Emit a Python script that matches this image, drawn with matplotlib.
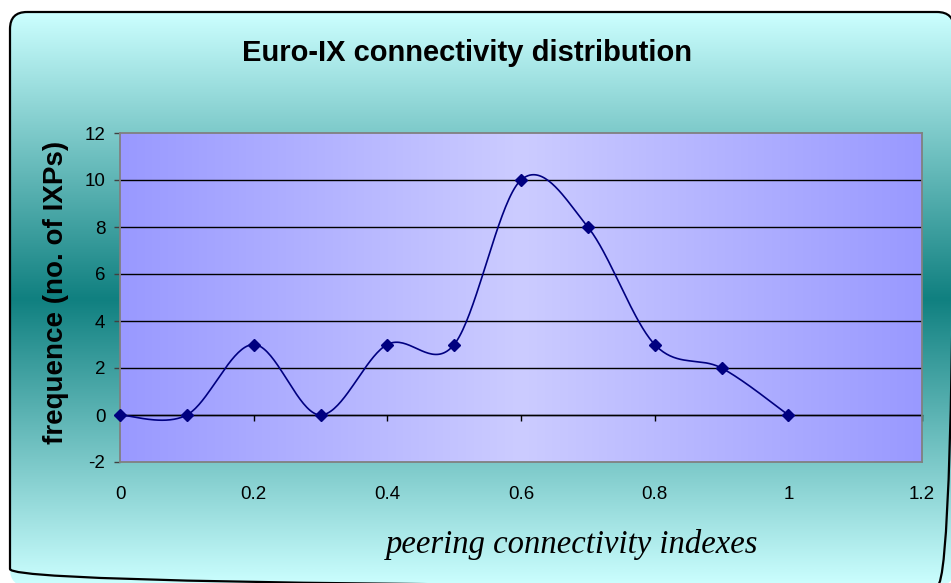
import numpy as np
import matplotlib
matplotlib.use("Agg")
import matplotlib.pyplot as plt
from matplotlib.patches import FancyBboxPatch

# ---- data ----
x_values = [0.0, 0.1, 0.2, 0.3, 0.4, 0.5, 0.6, 0.7, 0.8, 0.9, 1.0]
y_values = [0, 0, 3, 0, 3, 3, 10, 8, 3, 2, 0]
x_ticks = [0, 0.2, 0.4, 0.6, 0.8, 1, 1.2]
x_tick_labels = ["0", "0.2", "0.4", "0.6", "0.8", "1", "1.2"]
y_ticks = [-2, 0, 2, 4, 6, 8, 10, 12]
title = "Euro-IX connectivity distribution"
x_label = "peering connectivity indexes"
y_label = "frequence (no. of IXPs)"

W, H = 951, 583
fig = plt.figure(figsize=(W / 100, H / 100), dpi=100)
fig.patch.set_facecolor("white")

# ---- outer background with rounded border ----
bg = fig.add_axes([0, 0, 1, 1])
bg.axis("off")
top_c = np.array([0xcc, 0xff, 0xff]) / 255
mid_c = np.array([0x10, 0x80, 0x80]) / 255
x0, x1 = 10, 954
y0, y1 = 12, 586
yy = np.linspace(0, 1, 400)
t = 1 - np.abs(yy - 0.5) * 2
grad = top_c[None, :] * (1 - t[:, None]) + mid_c[None, :] * t[:, None]
grad = np.repeat(grad[:, None, :], 2, axis=1)
im = bg.imshow(grad, extent=[x0, x1, y1, y0], aspect="auto", interpolation="bilinear")
box = FancyBboxPatch((x0, y0), x1 - x0, y1 - y0, boxstyle="round,pad=0,rounding_size=17",
                     facecolor="none", edgecolor="black", linewidth=1.6)
bg.add_patch(box)
im.set_clip_path(box)
bg.set_xlim(0, W)
bg.set_ylim(H, 0)

# ---- plot area ----
L, R, T, B = 120, 922, 133, 462
ax = fig.add_axes([L / W, 1 - B / H, (R - L) / W, (B - T) / H])
edge_c = np.array([0x99, 0x99, 0xff]) / 255
cen_c = np.array([0xcc, 0xcc, 0xff]) / 255
xx = np.linspace(0, 1, 400)
s = 1 - np.abs(xx - 0.5) * 2
pg = edge_c[None, :] * (1 - s[:, None]) + cen_c[None, :] * s[:, None]
pg = np.repeat(pg[None, :, :], 2, axis=0)
ax.imshow(pg, extent=[0, 1.2, -2, 12], aspect="auto", zorder=0, interpolation="bilinear")
ax.set_xlim(0, 1.2)
ax.set_ylim(-2, 12)

for v in y_ticks:
    if v not in (-2, 12):
        ax.axhline(v, color="black", lw=1.0, zorder=1)

for sp in ax.spines.values():
    sp.set_color("#808080")
    sp.set_linewidth(1.3)

ax.set_yticks(y_ticks)
ax.set_yticklabels([str(v) for v in y_ticks], fontsize=13.5, family="Liberation Sans")
ax.tick_params(axis="y", direction="out", length=4.5, width=1, color="#404040", pad=6)

ax.set_xticks(x_ticks)
ax.set_xticklabels(x_tick_labels, fontsize=13.5, family="Liberation Sans")
ax.tick_params(axis="x", length=0, pad=17)

sec = ax.secondary_xaxis(2 / 14)
sec.set_xticks(x_ticks)
sec.tick_params(axis="x", direction="out", length=4.5, width=1, color="black", labelbottom=False)
sec.spines["bottom"].set_color("black")
sec.spines["bottom"].set_linewidth(1.0)

# ---- smoothed line (Excel-style Bezier) ----
px = np.array(x_values, dtype=float)
py = np.array(y_values, dtype=float)
n = len(px)
sx, sy = [], []
for i in range(n - 1):
    p0 = i - 1 if i > 0 else i
    p3 = i + 2 if i + 2 < n else i + 1
    b1x = px[i] + (px[i + 1] - px[p0]) / 6
    b1y = py[i] + (py[i + 1] - py[p0]) / 6
    b2x = px[i + 1] - (px[p3] - px[i]) / 6
    b2y = py[i + 1] - (py[p3] - py[i]) / 6
    tt = np.linspace(0, 1, 40)
    bx = ((1 - tt) ** 3 * px[i] + 3 * (1 - tt) ** 2 * tt * b1x
          + 3 * (1 - tt) * tt ** 2 * b2x + tt ** 3 * px[i + 1])
    by = ((1 - tt) ** 3 * py[i] + 3 * (1 - tt) ** 2 * tt * b1y
          + 3 * (1 - tt) * tt ** 2 * b2y + tt ** 3 * py[i + 1])
    sx.extend(bx)
    sy.extend(by)
ax.plot(sx, sy, color="#000080", lw=1.2, zorder=3, clip_on=False)
ax.plot(px, py, linestyle="none", marker="D", markersize=6.5, color="#000080", zorder=4, clip_on=False)

# ---- texts ----
fig.text(467 / W, 1 - 53 / H, title, ha="center", va="center", fontsize=21,
         fontweight="bold", family="Liberation Sans")
fig.text(56 / W, 1 - 292 / H, y_label, ha="center", va="center", rotation=90,
         fontsize=20, fontweight="bold", family="Liberation Sans")
fig.text(572 / W, 1 - 544 / H, x_label, ha="center", va="center", fontsize=23.5,
         style="italic", family="Liberation Serif")

fig.savefig("out.png", dpi=100)
